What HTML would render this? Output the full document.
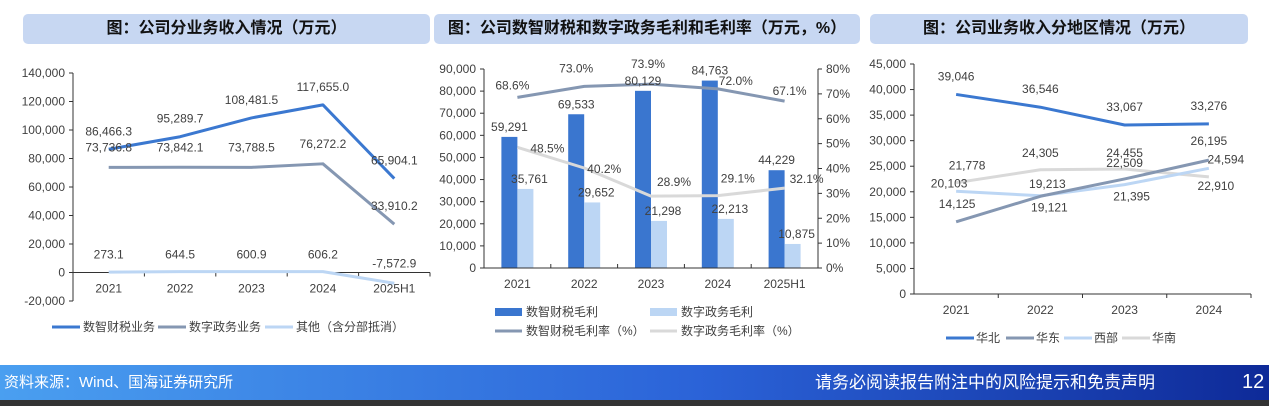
<!DOCTYPE html>
<html><head><meta charset="utf-8">
<style>
body{margin:0;width:1269px;height:406px;overflow:hidden;background:#fff;font-family:"Liberation Sans","Noto Sans CJK SC",sans-serif;position:relative}
.title{position:absolute;top:14px;height:30px;background:#c7d7f2;border-radius:5px;font-weight:bold;font-size:16px;color:#111;text-align:center;line-height:30px}
svg{position:absolute;left:0;top:0}
svg text{font-family:"Liberation Sans","Noto Sans CJK SC",sans-serif;font-size:12px;fill:#404040}
#footer{position:absolute;left:0;top:365px;width:1269px;height:35px;background:linear-gradient(90deg,#4a9ff0,#2b63d8 55%,#0e2a98);color:#fff;font-size:17px;line-height:35px}
#strip{position:absolute;left:0;top:400px;width:1269px;height:6px;background:#333}
</style></head><body>
<div class="title" style="left:23px;width:407px">图：公司分业务收入情况（万元）</div>
<div class="title" style="left:434px;width:426px">图：公司数智财税和数字政务毛利和毛利率（万元，%）</div>
<div class="title" style="left:870px;width:378px">图：公司业务收入分地区情况（万元）</div>
<svg id="chart" width="1269" height="406"></svg>
<div id="footer"><span style="position:absolute;left:4px;font-size:15px">资料来源：Wind、国海证券研究所</span><span style="position:absolute;left:815px">请务必阅读报告附注中的风险提示和免责声明</span><span style="position:absolute;left:1242px;font-size:20px">12</span></div>
<div id="strip"></div>
<script>
// Chart 1 data
const c1Cats=["2021","2022","2023","2024","2025H1"];
const c1Tax=[86466.3,95289.7,108481.5,117655.0,65904.1];
const c1Gov=[73736.8,73842.1,73788.5,76272.2,33910.2];
const c1Other=[273.1,644.5,600.9,606.2,-7572.9];
const c1Ticks=[-20000,0,20000,40000,60000,80000,100000,120000,140000];
// Chart 2 data
const c2Cats=["2021","2022","2023","2024","2025H1"];
const c2TaxGP=[59291,69533,80129,84763,44229];
const c2GovGP=[35761,29652,21298,22213,10875];
const c2TaxRate=[68.6,73.0,73.9,72.0,67.1];
const c2GovRate=[48.5,40.2,28.9,29.1,32.1];
const c2Ticks=[0,10000,20000,30000,40000,50000,60000,70000,80000,90000];
const c2RTicks=[0,10,20,30,40,50,60,70,80];
// Chart 3 data
const c3Cats=["2021","2022","2023","2024"];
const c3North=[39046,36546,33067,33276];
const c3East=[14125,19121,22509,26195];
const c3West=[20103,19213,21395,24594];
const c3South=[21778,24305,24455,22910];
const c3Ticks=[0,5000,10000,15000,20000,25000,30000,35000,40000,45000];

const svg=document.getElementById('chart');
const NS="http://www.w3.org/2000/svg";
function mk(tag,attrs,name){const e=document.createElementNS(NS,tag);for(const k in attrs)e.setAttribute(k,attrs[k]);


svg.appendChild(e);return e;}
function txt(x,y,s,name,anchor,size){const t=mk('text',{x:x,y:y,'text-anchor':anchor||'middle'},name);if(size)t.setAttribute('font-size',size);t.textContent=s;return t;}
function fmt(v,d){return v.toLocaleString('en-US',{minimumFractionDigits:d,maximumFractionDigits:d});}
function line(xs,ys,color,w,name){mk('polyline',{points:xs.map((x,i)=>x+','+ys[i]).join(' '),fill:'none',stroke:color,'stroke-width':w,'stroke-linejoin':'round'},name);}
const C1='#3b78d0',C2='#8597b2',C3='#bcd6f4',C4='#d9d9d9';

// ---- Chart 1 ----
{const ax=73,x0=73,x1=430,yTop=73,yBot=301,vMin=-20000,vMax=140000;
const y=v=>yBot-(v-vMin)/(vMax-vMin)*(yBot-yTop);
const bw=(x1-x0)/c1Cats.length;const x=i=>x0+bw*(i+0.5);
mk('line',{x1:ax,y1:yTop,x2:ax,y2:yBot,stroke:'#333'},'c1-y-axis');
c1Ticks.forEach(t=>{mk('line',{x1:ax-4,y1:y(t),x2:ax,y2:y(t),stroke:'#333'},'c1-y-tick');txt(ax-8,y(t)+4,fmt(t,0),'c1-y-tick-label','end');});
mk('line',{x1:x0,y1:y(0),x2:x1,y2:y(0),stroke:'#333'},'c1-x-axis');
c1Cats.forEach((c,i)=>{mk('line',{x1:x0+bw*(i+1),y1:y(0),x2:x0+bw*(i+1),y2:y(0)+4,stroke:'#333'},'c1-x-tick');txt(x(i),y(0)+20,c,'c1-x-label');});
const xs=c1Cats.map((c,i)=>x(i));
line(xs,c1Other.map(y),C3,3,'c1-line-other');
line(xs,c1Gov.map(y),C2,3,'c1-line-gov');
line(xs,c1Tax.map(y),C1,3,'c1-line-tax');
c1Tax.forEach((v,i)=>txt(x(i),y(v)-14,fmt(v,1),'c1-label-tax'));
c1Gov.forEach((v,i)=>txt(x(i),i==4?y(v)-14:y(v)-16,fmt(v,1),'c1-label-gov'));
c1Other.forEach((v,i)=>txt(x(i),i==4?y(0)-5:y(0)-14,fmt(v,1),'c1-label-other'));
const ly=327;
[[C1,'数智财税业务',52],[C2,'数字政务业务',158],[C3,'其他（含分部抵消）',265]].forEach(l=>{mk('line',{x1:l[2],y1:ly,x2:l[2]+28,y2:ly,stroke:l[0],'stroke-width':3},'c1-legend-swatch');txt(l[2]+31,ly+4,l[1],'c1-legend-label','start');});
}

// ---- Chart 2 ----
{const axL=484,axR=818,yTop=69,yBot=268;
const y=v=>yBot-v/90000*(yBot-yTop);const yr=v=>yBot-v/80*(yBot-yTop);
const bw=(axR-axL)/c2Cats.length;const x=i=>axL+bw*(i+0.5);
c2TaxGP.forEach((v,i)=>mk('rect',{x:x(i)-16,y:y(v),width:16,height:yBot-y(v),fill:'#3a76cf'},'c2-bar-tax'));
c2GovGP.forEach((v,i)=>mk('rect',{x:x(i),y:y(v),width:16,height:yBot-y(v),fill:C3},'c2-bar-gov'));
mk('line',{x1:axL,y1:yTop,x2:axL,y2:yBot,stroke:'#333'},'c2-y-axis-left');
mk('line',{x1:axR,y1:yTop,x2:axR,y2:yBot,stroke:'#333'},'c2-y-axis-right');
mk('line',{x1:axL,y1:yBot,x2:axR,y2:yBot,stroke:'#333'},'c2-x-axis');
c2Ticks.forEach(t=>{mk('line',{x1:axL-4,y1:y(t),x2:axL,y2:y(t),stroke:'#333'},'c2-y-tick');txt(axL-8,y(t)+4,fmt(t,0),'c2-y-tick-label','end');});
c2RTicks.forEach(t=>{mk('line',{x1:axR,y1:yr(t),x2:axR+4,y2:yr(t),stroke:'#333'},'c2-y2-tick');txt(axR+8,yr(t)+4,t+'%','c2-y2-tick-label','start');});
c2Cats.forEach((c,i)=>{mk('line',{x1:axL+bw*(i+1),y1:yBot,x2:axL+bw*(i+1),y2:yBot-4,stroke:'#333'},'c2-x-tick');txt(x(i),yBot+20,c,'c2-x-label');});
const xs=c2Cats.map((c,i)=>x(i));
line(xs,c2GovRate.map(yr),C4,3,'c2-line-gov-rate');
line(xs,c2TaxRate.map(yr),C2,3,'c2-line-tax-rate');
c2TaxGP.forEach((v,i)=>txt(x(i)-8,y(v)-6,fmt(v,0),'c2-label-tax'));
c2GovGP.forEach((v,i)=>txt(x(i)+12,y(v)-6,fmt(v,0),'c2-label-gov'));
const tro=[[-5,-8],[-8,-14],[-3,-16],[18,-4],[5,-6]];
c2TaxRate.forEach((v,i)=>txt(x(i)+tro[i][0],yr(v)+tro[i][1],v.toFixed(1)+'%','c2-label-tax-rate'));
const gro=[[30,5],[20,5],[23,-10],[20,-13],[22,-5]];
c2GovRate.forEach((v,i)=>txt(x(i)+gro[i][0],yr(v)+gro[i][1],v.toFixed(1)+'%','c2-label-gov-rate'));
[[495,312,'rect','#3a76cf','数智财税毛利'],[650,312,'rect',C3,'数字政务毛利'],[495,331,'line',C2,'数智财税毛利率（%）'],[650,331,'line',C4,'数字政务毛利率（%）']].forEach(l=>{
if(l[2]=='rect')mk('rect',{x:l[0],y:l[1]-4,width:27,height:8,fill:l[3]},'c2-legend-swatch');else mk('line',{x1:l[0],y1:l[1],x2:l[0]+27,y2:l[1],stroke:l[3],'stroke-width':3},'c2-legend-swatch');
txt(l[0]+31,l[1]+4,l[4],'c2-legend-label','start');});
}

// ---- Chart 3 ----
{const ax=914,x1=1251,yTop=64,yBot=294;
const y=v=>yBot-v/45000*(yBot-yTop);
const bw=(x1-ax)/c3Cats.length;const x=i=>ax+bw*(i+0.5);
mk('line',{x1:ax,y1:yTop,x2:ax,y2:yBot,stroke:'#333'},'c3-y-axis');
mk('line',{x1:ax,y1:yBot,x2:x1,y2:yBot,stroke:'#333'},'c3-x-axis');
c3Ticks.forEach(t=>{mk('line',{x1:ax-4,y1:y(t),x2:ax,y2:y(t),stroke:'#333'},'c3-y-tick');txt(ax-8,y(t)+4,fmt(t,0),'c3-y-tick-label','end');});
c3Cats.forEach((c,i)=>{mk('line',{x1:ax+bw*(i+1),y1:yBot,x2:ax+bw*(i+1),y2:yBot+4,stroke:'#333'},'c3-x-tick');txt(x(i),yBot+20,c,'c3-x-label');});
const xs=c3Cats.map((c,i)=>x(i));
line(xs,c3South.map(y),C4,3,'c3-line-south');
line(xs,c3West.map(y),C3,3,'c3-line-west');
line(xs,c3East.map(y),C2,3,'c3-line-east');
line(xs,c3North.map(y),C1,3,'c3-line-north');
c3North.forEach((v,i)=>txt(x(i),y(v)-14,fmt(v,0),'c3-label-north'));
const eo=[[1,-14],[9,15],[0,-12],[0,-15]];
c3East.forEach((v,i)=>txt(x(i)+eo[i][0],y(v)+eo[i][1],fmt(v,0),'c3-label-east'));
const wo=[[-7,-4],[7,-8],[7,16],[17,-5]];
c3West.forEach((v,i)=>txt(x(i)+wo[i][0],y(v)+wo[i][1],fmt(v,0),'c3-label-west'));
const so=[[11,-13],[0,-13],[0,-12],[7,13]];
c3South.forEach((v,i)=>txt(x(i)+so[i][0],y(v)+so[i][1],fmt(v,0),'c3-label-south'));
[[C1,'华北',946],[C2,'华东',1006],[C3,'西部',1064],[C4,'华南',1122]].forEach(l=>{mk('line',{x1:l[2],y1:338,x2:l[2]+28,y2:338,stroke:l[0],'stroke-width':3},'c3-legend-swatch');txt(l[2]+30,342,l[1],'c3-legend-label','start');});
}
</script>
</body></html>
